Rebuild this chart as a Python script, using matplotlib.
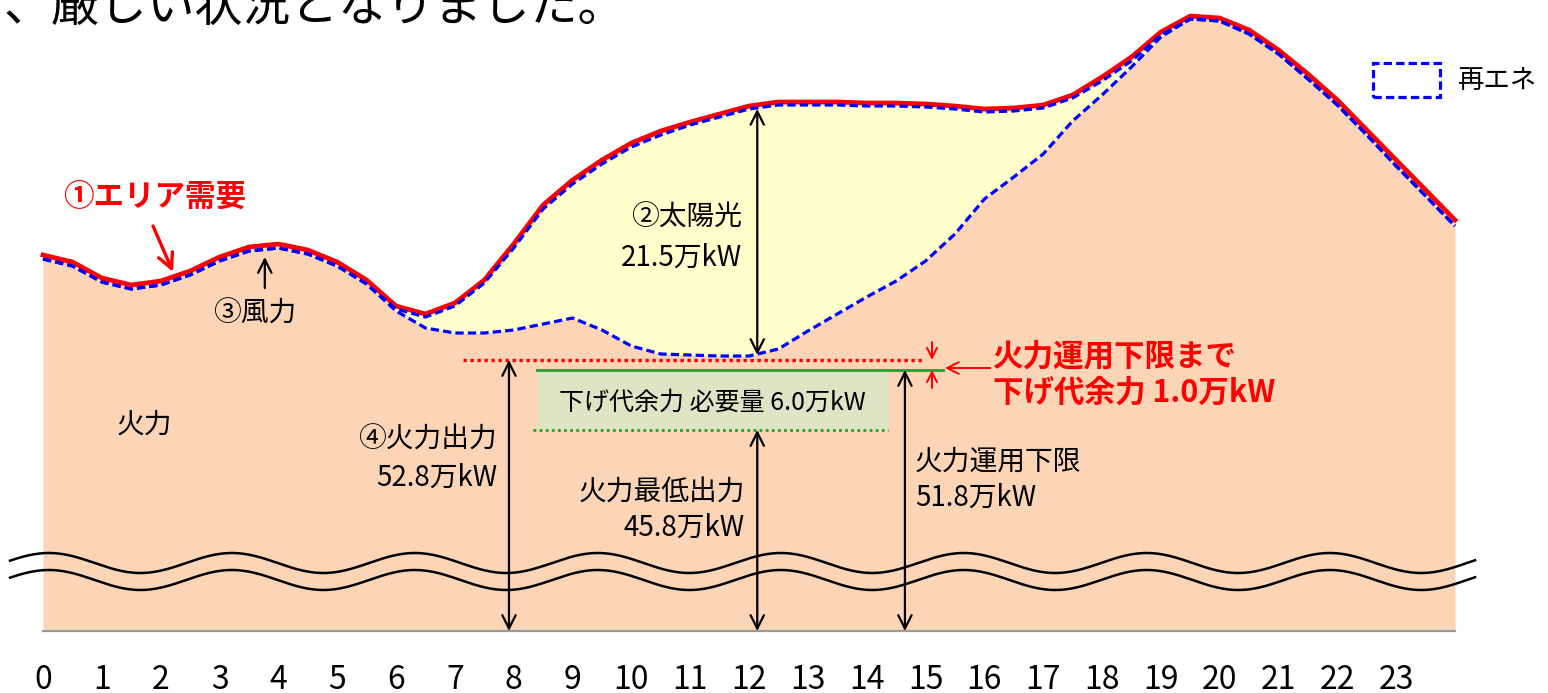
import numpy as np
import matplotlib.pyplot as plt
from matplotlib.patches import Rectangle

plt.rcParams['font.family'] = ['Noto Sans CJK JP', 'DejaVu Sans']

# half-hour grid, 0:00 - 24:00
hours = np.arange(0, 24.5, 0.5)

# area demand (万kW)
demand = [63.3, 62.6, 61.0, 60.3, 60.7, 61.7, 63.1, 64.1, 64.4, 63.8,
          62.6, 60.8, 58.2, 57.4, 58.5, 60.8, 64.4, 68.3, 70.8, 72.8,
          74.5, 75.7, 76.6, 77.4, 78.2, 78.6, 78.6, 78.6, 78.5, 78.5,
          78.4, 78.2, 77.9, 78.0, 78.3, 79.3, 81.1, 83.1, 85.6, 87.2,
          87.0, 85.8, 83.8, 81.4, 78.8, 75.8, 72.8, 69.8, 66.8]
wind = [0.4, 0.4, 0.4, 0.4, 0.4, 0.4, 0.4, 0.4, 0.4, 0.4,
        0.4, 0.4, 0.3, 0.3, 0.3, 0.3, 0.4, 0.4, 0.4, 0.4,
        0.4, 0.4, 0.3, 0.3, 0.3, 0.3, 0.3, 0.3, 0.3, 0.3,
        0.3, 0.3, 0.3, 0.3, 0.3, 0.3, 0.4, 0.4, 0.3, 0.3,
        0.3, 0.4, 0.4, 0.5, 0.5, 0.5, 0.6, 0.6, 0.6]
solar = [0, 0, 0, 0, 0, 0, 0, 0, 0, 0, 0, 0,
         0.2, 1.1, 2.7, 5.0, 8.2, 11.5, 13.4, 16.6, 19.9, 21.9,
         23.0, 23.9, 24.7, 24.4, 22.6, 20.9, 19.1, 17.5, 15.4, 12.5,
         8.7, 6.6, 4.6, 2.3, 1.4, 0.6, 0.2,
         0, 0, 0, 0, 0, 0, 0, 0, 0, 0]

# thermal levels (万kW)
thermal_out = 52.8
lower_limit = 51.8
min_out = 45.8
hidden = 25.7          # part of the scale cut out by the wavy break

hour_labels = [str(h) for h in range(24)]

demand = np.array(demand)
net = demand - np.array(wind)
thermal = net - np.array(solar)


def lift(v):
    return np.asarray(v) - hidden


ORANGE = '#FBD5B5'
YELLOW = '#FFFFCC'
BLUE = '#0000FF'
RED = '#FF0000'
GREEN = '#2E9A2E'

fig = plt.figure(figsize=(15.48, 6.93), dpi=100)
ax = fig.add_axes([0, 0, 1, 1])
ax.set_xlim(-0.731, 25.58)
ax.set_ylim(-6.2, 63.1)
ax.axis('off')

# stacked areas
ax.fill_between(hours, 0, lift(demand), color=ORANGE, lw=0, zorder=1)
ax.fill_between(hours, lift(thermal), lift(net), color=YELLOW, lw=0, zorder=2)
ax.plot([0, 24], [0, 0], color='#999999', lw=1.6, zorder=3)

# wavy scale break
xw = np.linspace(-0.56, 24.34, 800)
for c in (6.8, 5.1):
    ax.plot(xw, c + 1.0 * np.cos(2 * np.pi * (xw - 3.21) / 3.11),
            color='black', lw=1.8, zorder=4)

# curves
ax.plot(hours, lift(demand), color=RED, lw=3.4, zorder=6,
        solid_joinstyle='round')
ax.plot(hours, lift(net), color=BLUE, lw=2.3, dashes=(2.6, 1.3), zorder=7)
ax.plot(hours, lift(thermal), color=BLUE, lw=2.3, dashes=(2.6, 1.3), zorder=7)

# margin band
ax.fill_between([8.40, 14.36], lift(min_out), lift(lower_limit),
                color='#DEE5C4', lw=0, zorder=3)
ax.plot([7.14, 14.99], [lift(thermal_out)] * 2, color=RED, lw=2.4,
        ls=(0, (1, 1.1)), zorder=5)
ax.plot([8.40, 15.30], [lift(lower_limit)] * 2, color=GREEN, lw=2.0, zorder=5)
ax.plot([8.33, 14.36], [lift(min_out)] * 2, color='#22A022', lw=2.0,
        ls=(0, (1, 1.2)), zorder=5)


def arrow(x0, y0, x1, y1, style='<->', color='black', lw=1.6, ms=16):
    ax.annotate('', xy=(x1, y1), xytext=(x0, y0),
                arrowprops=dict(arrowstyle=style + ',head_length=0.6,head_width=0.3',
                                color=color, lw=lw, shrinkA=0, shrinkB=0,
                                mutation_scale=ms), zorder=8)


x_sol = 12.14
arrow(x_sol, np.interp(x_sol, hours, lift(thermal)) - 0.1,
      x_sol, np.interp(x_sol, hours, lift(net)) - 0.1)
arrow(7.92, 0, 7.92, lift(thermal_out))
arrow(12.14, 0, 12.14, lift(min_out))
arrow(14.65, 0, 14.65, lift(lower_limit))
arrow(3.77, 34.3, 3.77, 37.4, style='->')
arrow(1.87, 40.5, 2.21, 35.9, style='->', color=RED, lw=2.4, ms=18)
arrow(15.11, lift(thermal_out) + 1.8, 15.11, lift(thermal_out), style='->',
      color=RED, lw=1.4, ms=12)
arrow(15.11, lift(lower_limit) - 1.8, 15.11, lift(lower_limit), style='->',
      color=RED, lw=1.4, ms=12)
arrow(16.10, 26.3, 15.33, 26.3, style='->', color=RED, lw=1.4, ms=14)

# texts
fs = 20
ax.text(-0.68, 61.0, '、厳しい状況となりました。', fontsize=34.5, va='baseline',
        ha='left')
ax.text(1.90, 43.4, '①エリア需要', color=RED, fontsize=22, fontweight='bold',
        ha='center', va='center')
ax.text(3.60, 31.7, '③風力', fontsize=fs, ha='center', va='center')
ax.text(11.88, 41.3, '②太陽光', fontsize=fs, ha='right', va='center')
ax.text(11.88, 37.3, '21.5万kW', fontsize=fs, ha='right', va='center')
ax.text(1.73, 20.6, '火力', fontsize=fs, ha='center', va='center')
ax.text(7.72, 19.1, '④火力出力', fontsize=fs, ha='right', va='center')
ax.text(7.72, 15.3, '52.8万kW', fontsize=fs, ha='right', va='center')
ax.text(11.37, 22.8, '下げ代余力 必要量 6.0万kW', fontsize=18, ha='center',
        va='center')
ax.text(11.93, 13.9, '火力最低出力', fontsize=fs, ha='right', va='center')
ax.text(11.93, 10.3, '45.8万kW', fontsize=fs, ha='right', va='center')
ax.text(14.82, 16.9, '火力運用下限', fontsize=fs, ha='left', va='center')
ax.text(14.82, 13.3, '51.8万kW', fontsize=fs, ha='left', va='center')
ax.text(16.15, 27.5, '火力運用下限まで', color=RED, fontsize=22,
        fontweight='bold', ha='left', va='center')
ax.text(16.15, 23.8, '下げ代余力 1.0万kW', color=RED, fontsize=22,
        fontweight='bold', ha='left', va='center')

# legend
ax.add_patch(Rectangle((22.61, 53.4), 1.14, 3.4, fill=False, edgecolor=BLUE,
                       lw=2.3, ls=(0, (2.6, 1.3)), zorder=8))
ax.text(24.05, 55.1, '再エネ', fontsize=19, ha='left', va='center')

# hour labels
for h, lab in enumerate(hour_labels):
    ax.text(h, -4.9, lab, fontsize=23, ha='center', va='center',
            family=['Liberation Sans Narrow', 'Noto Sans CJK JP'])

fig.savefig('out.png', dpi=100)
